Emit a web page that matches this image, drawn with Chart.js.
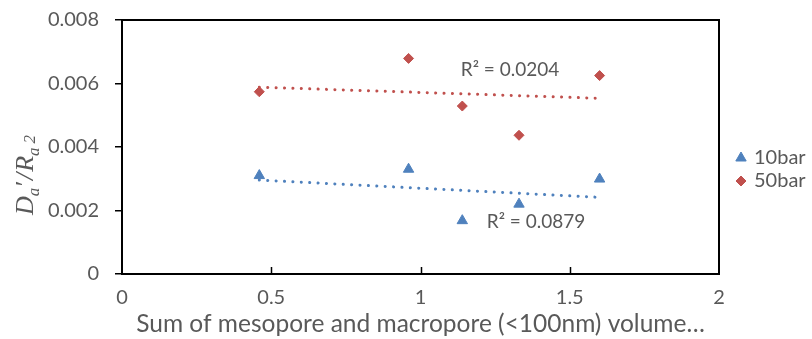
<!DOCTYPE html>
<html>
<head>
<meta charset="utf-8">
<script src="https://cdn.jsdelivr.net/npm/chart.js@4/dist/chart.umd.min.js"></script>
<style>
html,body{margin:0;padding:0;background:#fff;}
#wrap{width:812px;height:339px;}
</style>
</head>
<body>
<div id="wrap"><canvas id="c" width="812" height="339"></canvas></div>
<script>
const xValues = [0.46, 0.96, 1.14, 1.33, 1.60];
const series10bar = [0.00310, 0.00330, 0.00168, 0.00220, 0.00299];
const series50bar = [0.00574, 0.00679, 0.00529, 0.00437, 0.00625];
const seriesNames = ['10bar', '50bar'];
const r2Labels = ['R² = 0.0879', 'R² = 0.0204'];
const r2LabelPos = [[1.387, 0.00164], [1.30, 0.00643]];
const yTickLabels = ['0', '0.002', '0.004', '0.006', '0.008'];
const xTickLabels = ['0', '0.5', '1', '1.5', '2'];
const xTitle = 'Sum of mesopore and macropore (<100nm) volume…';

const BLUE = '#4F81BD', RED = '#C0504D', TXT = '#595959';
const FONT = 'Lato, "Liberation Sans", sans-serif';

function linFit(xs, ys) {
  const n = xs.length;
  const mx = xs.reduce((a, b) => a + b, 0) / n;
  const my = ys.reduce((a, b) => a + b, 0) / n;
  let sxy = 0, sxx = 0;
  for (let i = 0; i < n; i++) { sxy += (xs[i] - mx) * (ys[i] - my); sxx += (xs[i] - mx) ** 2; }
  const m = sxy / sxx, b = my - m * mx;
  const x0 = Math.min(...xs), x1 = Math.max(...xs);
  return [{x: x0, y: m * x0 + b}, {x: x1, y: m * x1 + b}];
}
const pts = (ys) => xValues.map((x, i) => ({x, y: ys[i]}));

const framePlugin = {
  id: 'frame',
  afterDatasetsDraw(chart) {
    const {ctx, chartArea: a, scales} = chart;
    ctx.save();
    ctx.strokeStyle = '#000';
    ctx.lineWidth = 2;
    ctx.strokeRect(a.left, a.top, a.right - a.left, a.bottom - a.top);
    // inward x ticks
    ctx.lineWidth = 1.5;
    [0.5, 1, 1.5].forEach(v => {
      const px = Math.round(scales.x.getPixelForValue(v)) + 0.5;
      ctx.beginPath(); ctx.moveTo(px, a.bottom); ctx.lineTo(px, a.bottom - 7); ctx.stroke();
    });
    // R² labels
    ctx.fillStyle = TXT;
    ctx.font = '19px ' + FONT;
    ctx.textAlign = 'center'; ctx.textBaseline = 'middle';
    r2Labels.forEach((t, i) => {
      ctx.fillText(t, scales.x.getPixelForValue(r2LabelPos[i][0]), scales.y.getPixelForValue(r2LabelPos[i][1]));
    });
    // legend
    const ds = chart.data.datasets;
    const lx = a.right + 22;
    const ly = [158, 181];
    [0, 1].forEach(i => {
      const d = ds[i];
      ctx.fillStyle = d.backgroundColor; ctx.strokeStyle = d.borderColor; ctx.lineWidth = 1;
      Chart.helpers.drawPoint(ctx, {pointStyle: d.pointStyle, radius: d.pointRadius, borderWidth: 1, rotation: 0}, lx, ly[i]);
      ctx.fillStyle = TXT;
      ctx.textAlign = 'left';
      ctx.font = '20px ' + FONT;
      ctx.fillText(seriesNames[i], lx + 13, ly[i]);
    });
    // y title
    ctx.save();
    ctx.translate(33, 175);
    ctx.rotate(-Math.PI / 2);
    ctx.fillStyle = TXT;
    ctx.textAlign = 'left'; ctx.textBaseline = 'alphabetic';
    const big = 'italic 26px "Liberation Serif", serif';
    const small = 'italic 17px "Liberation Serif", serif';
    const parts = [
      [big, 'D', 0, 0], [small, 'a', 6, 0], [big, '′', 0, 2], [big, '/', 0, 1], [big, 'R', 0, 0],
      [small, 'a', 6, 4], [small, '2', 2, 0]
    ];
    let w = 0;
    parts.forEach(p => { ctx.font = p[0]; w += ctx.measureText(p[1]).width + p[3]; });
    let x = -w / 2;
    parts.forEach(p => { ctx.font = p[0]; ctx.fillText(p[1], x, p[2]); x += ctx.measureText(p[1]).width + p[3]; });
    ctx.restore();
    ctx.restore();
  }
};

new Chart(document.getElementById('c'), {
  type: 'scatter',
  data: {
    datasets: [
      {label: seriesNames[0], data: pts(series10bar), pointStyle: 'triangle', pointRadius: 6, pointHoverRadius: 6,
       backgroundColor: BLUE, borderColor: BLUE, borderWidth: 1},
      {label: seriesNames[1], data: pts(series50bar), pointStyle: 'rectRot', pointRadius: 5, pointHoverRadius: 5,
       backgroundColor: RED, borderColor: RED, borderWidth: 1},
      {type: 'line', data: linFit(xValues, series10bar), borderColor: BLUE, borderWidth: 3, borderDash: [0.1, 8.3],
       borderCapStyle: 'round', pointRadius: 0, fill: false},
      {type: 'line', data: linFit(xValues, series50bar), borderColor: RED, borderWidth: 3, borderDash: [0.1, 8.3],
       borderCapStyle: 'round', pointRadius: 0, fill: false}
    ]
  },
  options: {
    responsive: false, animation: false, devicePixelRatio: 1,
    layout: {padding: {left: 0, right: 93, top: 20, bottom: 0}},
    plugins: {legend: {display: false}, tooltip: {enabled: false}},
    scales: {
      x: {
        type: 'linear', min: 0, max: 2,
        afterFit: s => { s.height = 65; s.paddingLeft = 0; s.paddingRight = 0; },
        afterBuildTicks: s => { s.ticks = xTickLabels.map(t => ({value: parseFloat(t)})); },
        ticks: {callback: (v, i) => xTickLabels[i], color: TXT, font: {size: 20, family: FONT}, padding: 12, maxRotation: 0},
        grid: {display: false, drawTicks: false},
        border: {display: false},
        title: {display: true, text: xTitle, color: TXT, font: {size: 24.5, family: FONT}, padding: {top: 0, bottom: 0}}
      },
      y: {
        min: 0, max: 0.008,
        afterFit: s => { s.width = 122; s.paddingTop = 0; s.paddingBottom = 0; },
        afterBuildTicks: s => { s.ticks = yTickLabels.map(t => ({value: parseFloat(t)})); },
        ticks: {callback: (v, i) => yTickLabels[i], color: TXT, font: {size: 20, family: FONT}, padding: 16},
        grid: {drawOnChartArea: false, drawTicks: true, tickLength: 7, color: '#000', lineWidth: 1.5},
        border: {display: false}
      }
    }
  },
  plugins: [framePlugin]
});
</script>
</body>
</html>
